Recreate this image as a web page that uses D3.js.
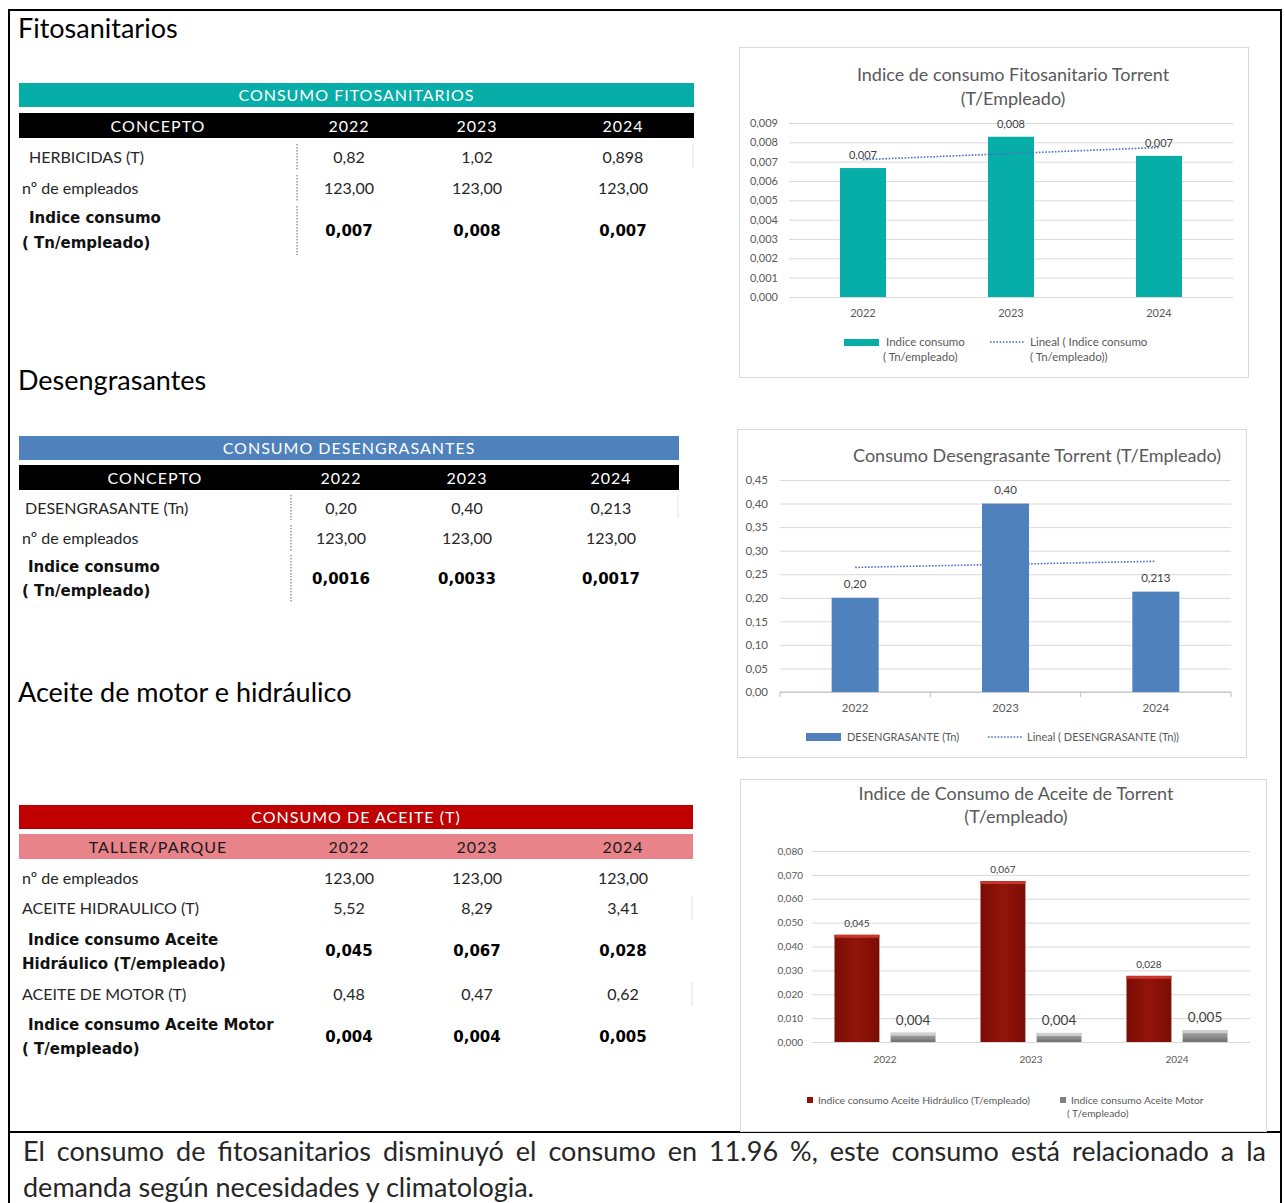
<!DOCTYPE html>
<html lang="es">
  <head>
    <meta charset="utf-8">
    <style>
      body { margin: 0; background: #fff; }
      text { font-family: Lato, "Open Sans", sans-serif; }
      .sect { font-size: 27px; fill: #000; }
      .thead { font-size: 16px; fill: #fff; letter-spacing: 1px; }
      .tlabel { font-size: 16px; fill: #262626; }
      .tval { font-size: 16px; fill: #262626; }
      .tlabel-b { font-family: "DejaVu Sans", sans-serif; font-size: 15px; font-weight: bold; fill: #111; }
      .tval-b { font-family: "DejaVu Sans", sans-serif; font-size: 15px; font-weight: bold; fill: #000; }
      .ctitle { fill: #595959; }
      .grid line { stroke: #d9d9d9; }
      .grid text, .xax text { fill: #595959; }
      .legend text { fill: #595959; }
      .foot { font-size: 27px; fill: #262626; }
    </style>
  </head>

  <body>
    <svg id="page" width="1285" height="1203"></svg>
  </body>
  <script src="https://d3js.org/d3.v7.min.js"></script>
  <script>
const years = ["2022", "2023", "2024"]
const empleados = [123, 123, 123]

// fitosanitarios
const herbicidas = [0.82, 1.02, 0.898]
const indiceFito = [0.00667, 0.00829, 0.0073]
const fitoTicks = [0, 0.001, 0.002, 0.003, 0.004, 0.005, 0.006, 0.007, 0.008, 0.009]

// desengrasantes
const desengrasante = [0.20, 0.40, 0.213]
const indiceDeseng = [0.0016, 0.0033, 0.0017]
const desengTicks = [0, 0.05, 0.10, 0.15, 0.20, 0.25, 0.30, 0.35, 0.40, 0.45]

// aceites
const aceiteHidraulico = [5.52, 8.29, 3.41]
const indiceHidraulico = [0.0449, 0.0674, 0.0277]
const aceiteMotor = [0.48, 0.47, 0.62]
const indiceMotor = [0.0039, 0.0038, 0.0050]
const aceiteTicks = [0, 0.01, 0.02, 0.03, 0.04, 0.05, 0.06, 0.07, 0.08]

const footText = [
  "El consumo de fitosanitarios disminuyó el consumo en 11.96 %, este consumo está relacionado a la",
  "demanda según necesidades y climatologia."
]

let svg = d3.select("#page")
let loc = d3.formatLocale({decimal: ",", thousands: ".", grouping: [3], currency: ["", ""]})
let f2 = loc.format(".2f"), f3 = loc.format(".3f"), f4 = loc.format(".4f")

// min 2 decimals, max 3 (as the tables show them)
function fmtT(v) {
  let s = loc.format(".3~f")(v)
  if (s.indexOf(",") < 0) return s + ",00"
  if (s.split(",")[1].length < 2) return s + "0"
  return s
}

let defs = svg.append("defs")
let gGrey = defs.append("linearGradient").attr("id", "gGrey").attr("x1", 0).attr("x2", 0).attr("y1", 0).attr("y2", 1)
gGrey.append("stop").attr("offset", "0%").attr("stop-color", "#b5b5b5")
gGrey.append("stop").attr("offset", "100%").attr("stop-color", "#6e6e6e")
let gRed = defs.append("linearGradient").attr("id", "gRed").attr("x1", 0).attr("x2", 1).attr("y1", 0).attr("y2", 0)
gRed.append("stop").attr("offset", "0%").attr("stop-color", "#7a0c05")
gRed.append("stop").attr("offset", "50%").attr("stop-color", "#931509")
gRed.append("stop").attr("offset", "100%").attr("stop-color", "#7a0c05")

// frame
svg.append("rect").attr("x", 9).attr("y", 10).attr("width", 1272).attr("height", 1210)
  .attr("fill", "none").attr("stroke", "#000").attr("stroke-width", 2)
svg.append("line").attr("x1", 9).attr("x2", 1281).attr("y1", 1132).attr("y2", 1132)
  .attr("stroke", "#000").attr("stroke-width", 2)

function sectionTitle(txt, y) {
  svg.append("text").attr("class", "sect").attr("x", 18).attr("y", y).text(txt)
}

function drawTable(t) {
  let g = svg.append("g")
  let w = t.x1 - t.x0
  g.append("rect").attr("x", t.x0).attr("y", t.titleY).attr("width", w).attr("height", 24).attr("fill", t.titleColor)
  g.append("text").attr("class", "thead").attr("x", t.x0 + w / 2).attr("y", t.titleY + 12).attr("dy", "0.35em")
    .attr("text-anchor", "middle").text(t.title)
  g.append("rect").attr("x", t.x0).attr("y", t.headY).attr("width", w).attr("height", 25).attr("fill", t.headColor)
  g.selectAll(".hc").data([t.concept].concat(years)).join("text")
    .attr("class", "thead")
    .attr("x", (d, i) => t.colX[i]).attr("y", t.headY + 13).attr("dy", "0.35em")
    .attr("text-anchor", "middle").style("fill", t.headText).text(d => d)

  t.rows.forEach(r => {
    r.lines.forEach((ln, k) => {
      g.append("text").attr("class", r.bold ? "tlabel-b" : "tlabel")
        .attr("x", r.lx[k]).attr("y", r.ly[k]).attr("dy", "0.35em").text(ln)
    })
    g.selectAll(null).data(r.values).join("text")
      .attr("class", r.bold ? "tval-b" : "tval")
      .attr("x", (d, i) => t.colX[i + 1]).attr("y", r.vy).attr("dy", "0.35em")
      .attr("text-anchor", "middle").text(r.fmt)
    if (t.divX && r.div) {
      g.append("line").attr("x1", t.divX).attr("x2", t.divX).attr("y1", r.div[0]).attr("y2", r.div[1])
        .attr("stroke", "#666").attr("stroke-dasharray", "1.5,1.5")
    }
    if (r.edge) {
      g.append("line").attr("x1", t.x1 - 1).attr("x2", t.x1 - 1).attr("y1", r.edge[0]).attr("y2", r.edge[1])
        .attr("stroke", "#e3e3e3")
    }
  })
}

function trend(values) {
  let n = values.length
  let xs = d3.range(1, n + 1)
  let mx = d3.mean(xs), my = d3.mean(values)
  let b = d3.sum(xs, (x, i) => (x - mx) * (values[i] - my)) / d3.sum(xs, x => (x - mx) * (x - mx))
  return xs.map(x => my + b * (x - mx))
}

function drawChart(c) {
  let g = svg.append("g")
  g.append("rect").attr("x", c.box[0] + 0.5).attr("y", c.box[1] + 0.5).attr("width", c.box[2]).attr("height", c.box[3])
    .attr("fill", "#fff").attr("stroke", "#d9d9d9")
  c.title.forEach((t, i) => {
    g.append("text").attr("class", "ctitle").attr("x", c.titleX).attr("y", c.titleY[i]).attr("dy", "0.35em")
      .attr("text-anchor", "middle").style("font-size", c.titleSize + "px").text(t)
  })

  let x = d3.scaleBand().domain(years).range([c.left, c.right])
  let y = d3.scaleLinear().domain([0, c.max]).range([c.bottom, c.top])

  let grid = g.append("g").attr("class", "grid").attr("transform", `translate(${c.left},0)`)
    .call(d3.axisLeft(y).tickValues(c.ticks).tickSize(-(c.right - c.left))
      .tickPadding(c.left - c.labelX).tickFormat(c.tickFmt))
  grid.select(".domain").remove()
  grid.selectAll("text").style("font-size", c.tickSize + "px").style("font-family", "Lato, sans-serif")

  let xax = g.append("g").attr("class", "xax").attr("transform", `translate(0,${c.bottom})`)
    .call(d3.axisBottom(x).tickSize(0).tickPadding(c.xPad))
  xax.select(".domain").remove()
  xax.selectAll("text").style("font-size", c.tickSize + "px").style("font-family", "Lato, sans-serif")

  if (c.axisLine) {
    g.append("line").attr("x1", c.left).attr("x2", c.right).attr("y1", c.bottom).attr("y2", c.bottom)
      .attr("stroke", "#bfbfbf")
    g.selectAll(null).data(d3.range(years.length + 1)).join("line")
      .attr("x1", i => c.left + i * x.step()).attr("x2", i => c.left + i * x.step())
      .attr("y1", c.bottom).attr("y2", c.bottom + 5).attr("stroke", "#bfbfbf")
  }

  let inner = d3.scaleBand().domain(d3.range(c.series.length)).range([0, c.groupW]).paddingInner(c.innerPad || 0)
  let off = (x.bandwidth() - c.groupW) / 2

  let line = d3.line().x((d, i) => x(years[i]) + x.bandwidth() / 2).y(d => y(d))
  function drawTrend() {
    g.append("path").datum(trend(c.series[0].values)).attr("d", line)
      .attr("fill", "none").attr("stroke", "#4472c4").attr("stroke-width", 1.6).attr("stroke-dasharray", "1.6,1.6")
  }
  if (c.trend === "under") drawTrend()

  c.series.forEach((s, si) => {
    g.selectAll(null).data(s.values).join("rect")
      .attr("x", (d, i) => x(years[i]) + off + inner(si)).attr("width", inner.bandwidth())
      .attr("y", d => y(d)).attr("height", d => c.bottom - y(d))
      .attr("fill", s.fill)
    if (s.cap) {
      g.selectAll(null).data(s.values).join("rect")
        .attr("x", (d, i) => x(years[i]) + off + inner(si)).attr("width", inner.bandwidth())
        .attr("y", d => y(d)).attr("height", 3).attr("fill", s.cap)
    }
    g.selectAll(null).data(s.values).join("text")
      .attr("x", (d, i) => x(years[i]) + off + inner(si) + inner.bandwidth() / 2)
      .attr("y", d => y(d) - s.labelGap).attr("text-anchor", "middle")
      .style("font-size", s.labelSize + "px").attr("fill", s.labelColor || "#404040")
      .text((d, i) => s.labels ? s.labels[i] : s.fmt(d))
  })

  if (c.trend === "over") drawTrend()

  let lg = g.append("g").attr("class", "legend")
  c.legend.forEach(it => {
    if (it.type === "rect") {
      lg.append("rect").attr("x", it.sx).attr("y", it.sy).attr("width", it.sw).attr("height", it.sh).attr("fill", it.fill)
    } else {
      lg.append("line").attr("x1", it.sx).attr("x2", it.sx + it.sw).attr("y1", it.sy).attr("y2", it.sy)
        .attr("stroke", "#4472c4").attr("stroke-width", 1.6).attr("stroke-dasharray", "1.6,1.6")
    }
    it.text.forEach((t, k) => {
      lg.append("text").attr("x", it.tx[k]).attr("y", it.ty[k]).attr("dy", "0.35em")
        .style("font-size", it.size + "px").text(t)
    })
  })
}

// ---------- Fitosanitarios ----------
sectionTitle("Fitosanitarios", 38)
drawTable({
  x0: 19, x1: 694, titleY: 83, headY: 113, title: "CONSUMO FITOSANITARIOS",
  titleColor: "#07ada7", headColor: "#000", headText: "#fff", concept: "CONCEPTO",
  colX: [158, 349, 477, 623], divX: 297,
  rows: [
    {lines: ["HERBICIDAS (T)"], lx: [29], ly: [157], vy: 157, values: herbicidas, fmt: fmtT, div: [144, 170], edge: [144, 168]},
    {lines: ["nº de empleados"], lx: [22], ly: [188], vy: 188, values: empleados, fmt: fmtT, div: [175, 201]},
    {lines: ["Indice consumo", "( Tn/empleado)"], lx: [29, 22], ly: [218, 243], vy: 231, values: indiceFito, fmt: f3, bold: true, div: [206, 255]}
  ]
})
drawChart({
  box: [739, 47, 509, 330], title: ["Indice de consumo Fitosanitario Torrent", "(T/Empleado)"],
  titleX: 1013, titleY: [75, 99], titleSize: 18,
  left: 789, right: 1233, top: 123, bottom: 297, max: 0.009, ticks: fitoTicks, tickFmt: f3,
  labelX: 778, tickSize: 11, xPad: 12, groupW: 46,
  series: [{values: indiceFito, fill: "#07ada7", fmt: f3, labelSize: 11, labelGap: 9}],
  trend: "over",
  legend: [
    {type: "rect", sx: 844, sy: 339, sw: 35, sh: 7, fill: "#07ada7", text: ["Indice consumo", "( Tn/empleado)"], tx: [886, 883], ty: [342, 357], size: 11.5},
    {type: "line", sx: 990, sy: 342, sw: 34, text: ["Lineal ( Indice consumo", "( Tn/empleado))"], tx: [1030, 1030], ty: [342, 357], size: 11.5}
  ]
})

// ---------- Desengrasantes ----------
sectionTitle("Desengrasantes", 390)
drawTable({
  x0: 19, x1: 679, titleY: 436, headY: 465, title: "CONSUMO DESENGRASANTES",
  titleColor: "#4f81bd", headColor: "#000", headText: "#fff", concept: "CONCEPTO",
  colX: [155, 341, 467, 611], divX: 291,
  rows: [
    {lines: ["DESENGRASANTE (Tn)"], lx: [25], ly: [508], vy: 508, values: desengrasante, fmt: fmtT, div: [495, 520], edge: [495, 518]},
    {lines: ["nº de empleados"], lx: [22], ly: [538], vy: 538, values: empleados, fmt: fmtT, div: [525, 551]},
    {lines: ["Indice consumo", "( Tn/empleado)"], lx: [28, 22], ly: [567, 591], vy: 579, values: indiceDeseng, fmt: f4, bold: true, div: [555, 603]}
  ]
})
drawChart({
  box: [737, 429, 509, 328], title: ["Consumo Desengrasante Torrent (T/Empleado)"],
  titleX: 1037, titleY: [456], titleSize: 18,
  left: 780, right: 1231, top: 480, bottom: 692, max: 0.45, ticks: desengTicks, tickFmt: f2,
  labelX: 768, tickSize: 11.5, xPad: 12, groupW: 47, axisLine: true,
  series: [{values: desengrasante, fill: "#4f81bd", fmt: fmtT, labelSize: 11.5, labelGap: 10}],
  trend: "under",
  legend: [
    {type: "rect", sx: 806, sy: 733, sw: 35, sh: 8, fill: "#4f81bd", text: ["DESENGRASANTE (Tn)"], tx: [847], ty: [737], size: 11},
    {type: "line", sx: 988, sy: 737, sw: 34, text: ["Lineal ( DESENGRASANTE (Tn))"], tx: [1027], ty: [737], size: 11}
  ]
})

// ---------- Aceites ----------
sectionTitle("Aceite de motor e hidráulico", 702)
drawTable({
  x0: 19, x1: 693, titleY: 805, headY: 834, title: "CONSUMO  DE ACEITE (T)",
  titleColor: "#c00000", headColor: "#e8838a", headText: "#1a1a1a", concept: "TALLER/PARQUE",
  colX: [158, 349, 477, 623],
  rows: [
    {lines: ["nº de empleados"], lx: [22], ly: [878], vy: 878, values: empleados, fmt: fmtT},
    {lines: ["ACEITE HIDRAULICO (T)"], lx: [22], ly: [908], vy: 908, values: aceiteHidraulico, fmt: fmtT, edge: [896, 920]},
    {lines: ["Indice consumo Aceite", "Hidráulico (T/empleado)"], lx: [28, 22], ly: [940, 964], vy: 951, values: indiceHidraulico, fmt: f3, bold: true},
    {lines: ["ACEITE DE MOTOR (T)"], lx: [22], ly: [994], vy: 994, values: aceiteMotor, fmt: fmtT, edge: [982, 1006]},
    {lines: ["Indice consumo Aceite Motor", "( T/empleado)"], lx: [28, 22], ly: [1025, 1049], vy: 1037, values: indiceMotor, fmt: f3, bold: true}
  ]
})
drawChart({
  box: [740, 779, 526, 352], title: ["Indice de Consumo de Aceite de Torrent", "(T/empleado)"],
  titleX: 1016, titleY: [794, 817], titleSize: 18,
  left: 812, right: 1250, top: 851, bottom: 1042, max: 0.08, ticks: aceiteTicks, tickFmt: f3,
  labelX: 803, tickSize: 10, xPad: 14, groupW: 101, innerPad: 0.2,
  series: [
    {values: indiceHidraulico, fill: "url(#gRed)", cap: "#c9352b", fmt: f3, labelSize: 10, labelGap: 8},
    {values: indiceMotor, fill: "url(#gGrey)", cap: "#cfcfcf", fmt: f3, labelSize: 13.5, labelGap: 8}
  ],
  legend: [
    {type: "rect", sx: 807, sy: 1097, sw: 6, sh: 6, fill: "#8e1208", text: ["Indice consumo Aceite Hidráulico (T/empleado)"], tx: [818], ty: [1100], size: 10.3},
    {type: "rect", sx: 1060, sy: 1097, sw: 6, sh: 6, fill: "#7f7f7f", text: ["Indice consumo Aceite Motor", "( T/empleado)"], tx: [1071, 1067], ty: [1100, 1113], size: 10.3}
  ]
})

// ---------- Texto final (justificado) ----------
function justifyLine(txt, x0, x1, y) {
  let words = txt.split(" ")
  let tmp = svg.append("g")
  let widths = words.map(w => {
    let t = tmp.append("text").attr("class", "foot").text(w)
    return t.node().getComputedTextLength()
  })
  tmp.remove()
  let gap = (x1 - x0 - d3.sum(widths)) / (words.length - 1)
  let xs = d3.cumsum([x0].concat(widths.slice(0, -1).map(w => w + gap)))
  svg.selectAll(null).data(words).join("text").attr("class", "foot")
    .attr("x", (d, i) => xs[i]).attr("y", y).text(d => d)
}
justifyLine(footText[0], 23, 1266, 1161)
svg.append("text").attr("class", "foot").attr("x", 23).attr("y", 1197).text(footText[1])
  </script>
</html>
